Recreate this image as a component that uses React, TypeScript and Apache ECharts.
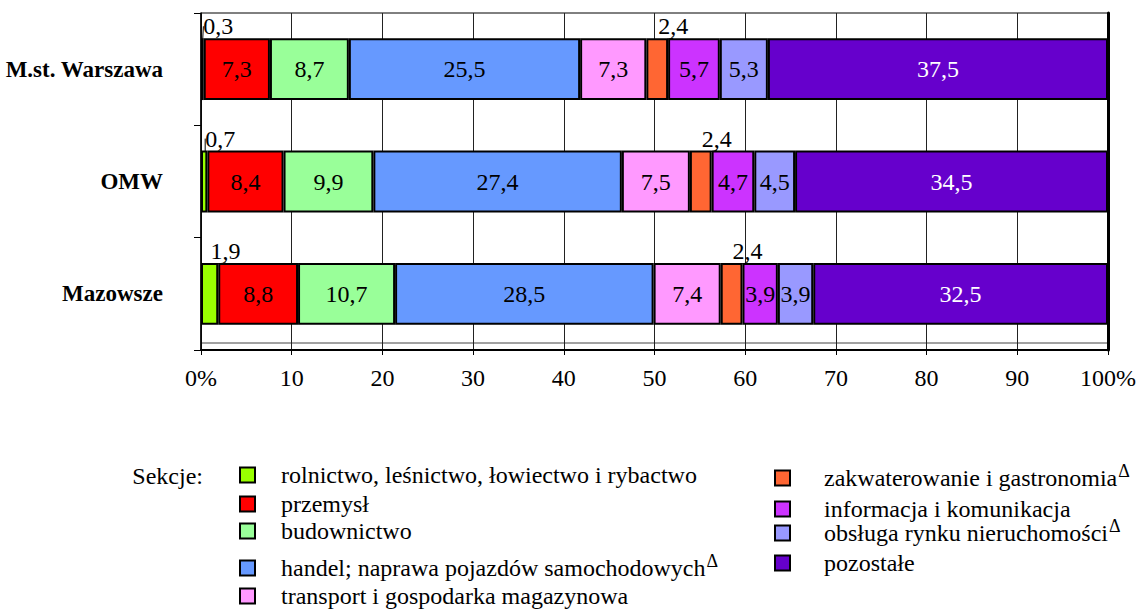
import React, { useEffect, useRef } from "react";
import * as echarts from "echarts";

const FONT = "Liberation Serif, Times New Roman, serif";

const categories = ["M.st. Warszawa", "OMW", "Mazowsze"];
const xTicks = [0, 10, 20, 30, 40, 50, 60, 70, 80, 90, 100];

const rolnictwo = [0.3, 0.7, 1.9];
const przemysl = [7.3, 8.4, 8.8];
const budownictwo = [8.7, 9.9, 10.7];
const handel = [25.5, 27.4, 28.5];
const transport = [7.3, 7.5, 7.4];
const zakwaterowanie = [2.4, 2.4, 2.4];
const informacja = [5.7, 4.7, 3.9];
const obsluga = [5.3, 4.5, 3.9];
const pozostale = [37.5, 34.5, 32.5];

const sectorNames = [
  "rolnictwo, leśnictwo, łowiectwo i rybactwo",
  "przemysł",
  "budownictwo",
  "handel; naprawa pojazdów samochodowych",
  "transport i gospodarka magazynowa",
  "zakwaterowanie i gastronomia",
  "informacja i komunikacja",
  "obsługa rynku nieruchomości",
  "pozostałe",
];
const deltaNames = [
  "handel; naprawa pojazdów samochodowych",
  "zakwaterowanie i gastronomia",
  "obsługa rynku nieruchomości",
];
const sectorColors = [
  "#99FF00",
  "#FF0000",
  "#99FF99",
  "#6699FF",
  "#FF99FF",
  "#FF6633",
  "#CC33FF",
  "#9999FF",
  "#6600CC",
];
const sectorValues = [
  rolnictwo,
  przemysl,
  budownictwo,
  handel,
  transport,
  zakwaterowanie,
  informacja,
  obsluga,
  pozostale,
];
const smallSectors = [0, 5];

// legend layout: [left of square, center y, text padding]
const legendSlots: [number, number, number][] = [
  [239, 475, 21],
  [239, 504, 21],
  [239, 531, 21],
  [239, 565, 21],
  [239, 596, 21],
  [774, 475, 29],
  [774, 509, 29],
  [774, 530, 29],
  [774, 563, 29],
];

const fmt = (v: number) => String(v).replace(".", ",");

export default function App() {
  const ref = useRef<HTMLDivElement>(null);
  useEffect(() => {
    if (!ref.current) return;
    const chart = echarts.init(ref.current, null, { renderer: "svg" });
    const GL = 201, GR = 1108, GT = 13, GB = 350;

    const series = sectorNames.map((name, i) => {
      const small = smallSectors.includes(i);
      const s: any = {
        name,
        type: "bar",
        stack: "total",
        barWidth: "55%",
        data: sectorValues[i],
        itemStyle: { color: sectorColors[i], borderColor: "#000", borderWidth: 2 },
        label: small
          ? {
              show: true,
              position: "top",
              distance: 1,
              align: "left",
              color: "#000",
              fontSize: 24,
              fontFamily: FONT,
              formatter: (p: any) => fmt(p.value),
            }
          : {
              show: true,
              position: "inside",
              color: i === 8 ? "#fff" : "#000",
              fontSize: 24,
              fontFamily: FONT,
              formatter: (p: any) => fmt(p.value),
            },
      };
      if (small) {
        s.labelLayout = { dx: 1, dy: 1 };
        s.labelLine = { show: true, lineStyle: { color: "#000", width: 1 } };
      }
      return s;
    });

    const legends = sectorNames.map((name, i) => {
      const [l, cy, pad] = legendSlots[i];
      return {
        data: [name],
        left: l,
        top: cy - 13,
        orient: "vertical",
        padding: 0,
        icon: "rect",
        itemWidth: 15,
        itemHeight: 15,
        selectedMode: false,
        itemStyle: { borderColor: "#000", borderWidth: 2 },
        formatter: (n: string) => (deltaNames.includes(n) ? `${n}{sup|Δ}` : n),
        textStyle: {
          fontFamily: FONT,
          fontSize: 24,
          color: "#000",
          lineHeight: 26,
          padding: [0, 0, 0, pad],
          rich: {
            sup: { fontFamily: FONT, fontSize: 18, color: "#000", lineHeight: 26, padding: [0, 0, 14, 1] },
          },
        },
      };
    });

    chart.setOption({
      animation: false,
      textStyle: { fontFamily: FONT },
      grid: {
        left: GL,
        right: 1138 - GR,
        top: GT,
        bottom: 610 - GB,
        show: true,
        borderColor: "#000",
        borderWidth: 1,
        outerBoundsMode: "none",
        containLabel: false,
      },
      xAxis: {
        type: "value",
        min: 0,
        max: 100,
        interval: 10,
        axisLine: { show: true, lineStyle: { color: "#000", width: 2 } },
        axisTick: { show: true, length: 5, lineStyle: { color: "#000" } },
        splitLine: { show: true, lineStyle: { color: "#222", width: 1 } },
        axisLabel: {
          fontSize: 24,
          color: "#000",
          fontFamily: FONT,
          margin: 16,
          formatter: (v: number) => (xTicks.includes(v) && (v === 0 || v === 100) ? `${v}%` : `${v}`),
        },
      },
      yAxis: [
        {
          type: "category",
          data: categories,
          inverse: true,
          axisLine: { show: true, lineStyle: { color: "#000", width: 1.5 } },
          axisTick: { show: true, length: 7, lineStyle: { color: "#000" } },
          axisLabel: {
            fontSize: 23,
            fontWeight: "bold",
            color: "#000",
            fontFamily: FONT,
            margin: 38,
          },
        },
        {
          type: "category",
          data: categories,
          inverse: true,
          position: "right",
          axisLine: { show: true, lineStyle: { color: "#000", width: 3 } },
          axisTick: { show: false },
          axisLabel: { show: false },
        },
      ],
      legend: legends,
      graphic: [
        {
          type: "line",
          shape: { x1: GL, y1: GB - 7, x2: GR, y2: GB - 7 },
          style: { stroke: "#444", lineWidth: 1 },
          silent: true,
        },
        {
          type: "text",
          style: {
            text: "Sekcje:",
            x: 203,
            y: 476,
            align: "right",
            verticalAlign: "middle",
            fontSize: 24,
            fontFamily: FONT,
            fill: "#000",
          },
        },
      ],
      series,
    });
    return () => chart.dispose();
  }, []);
  return (
    <div
      ref={ref}
      style={{ position: "fixed", left: 0, top: 0, width: 1138, height: 610, background: "#fff" }}
    />
  );
}
